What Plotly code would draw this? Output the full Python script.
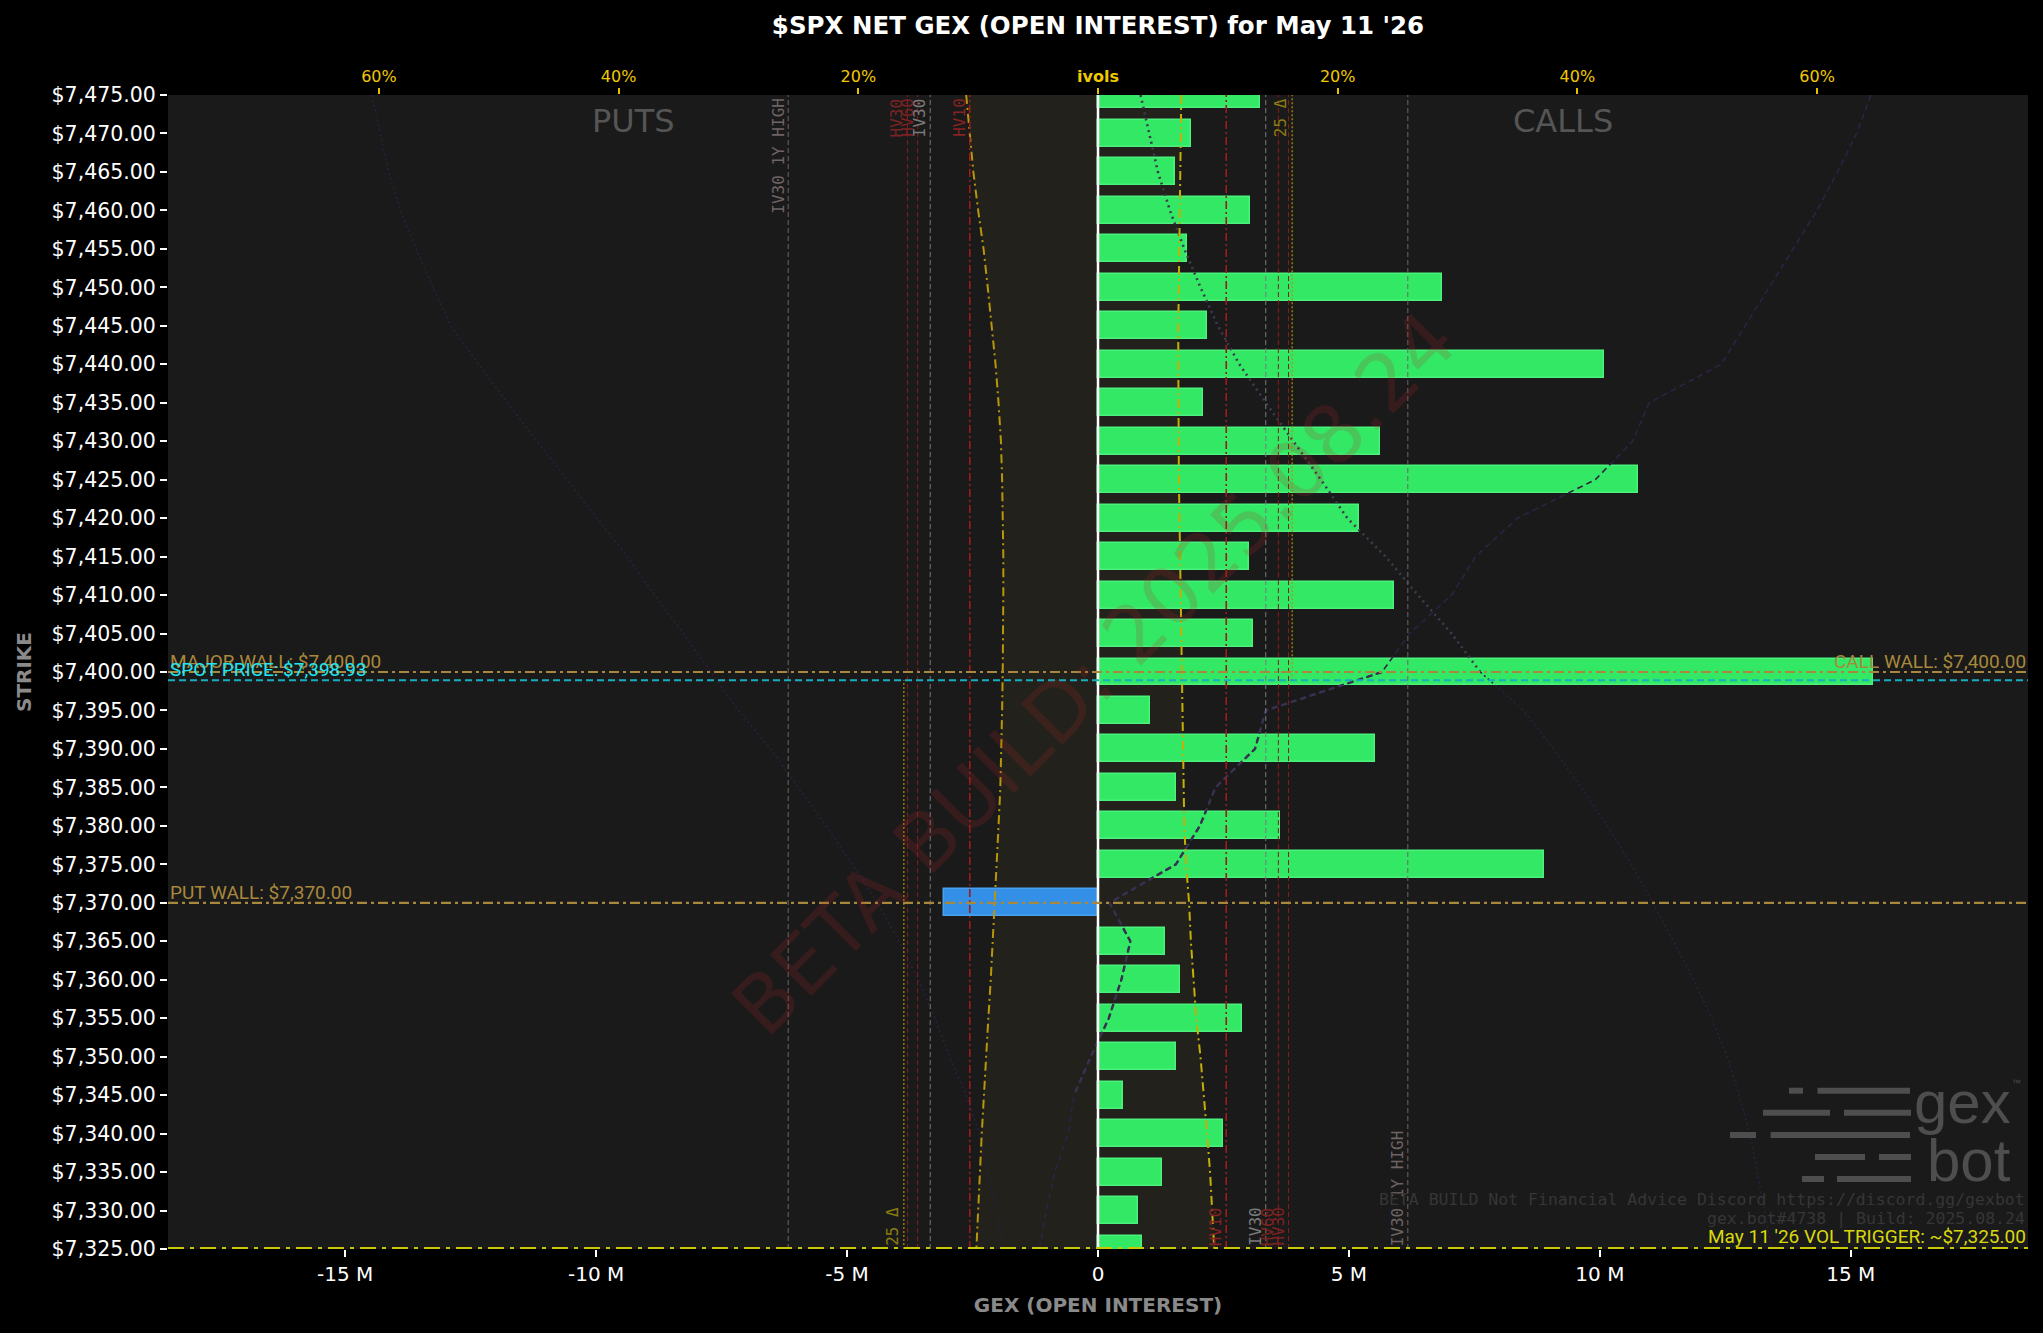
import plotly.graph_objects as go

# ---------------- data ----------------
strikes = [7475, 7470, 7465, 7460, 7455, 7450, 7445, 7440, 7435, 7430, 7425, 7420, 7415, 7410, 7405, 7400,
           7395, 7390, 7385, 7380, 7375, 7370, 7365, 7360, 7355, 7350, 7345, 7340, 7335, 7330, 7325]
net_gex_m = [3.22, 1.86, 1.53, 3.02, 1.78, 6.86, 2.18, 10.09, 2.10, 5.61, 10.76, 5.21, 3.00, 5.89, 3.08, 15.44,
             1.04, 5.51, 1.56, 3.63, 8.88, -3.07, 1.33, 1.64, 2.87, 1.56, 0.49, 2.49, 1.27, 0.79, 0.88]

# ivol band (gold dash-dot curves), percent
put_ivol_band = [11.0, 10.7, 10.4, 10.0, 9.55, 9.2, 8.85, 8.55, 8.3, 8.1, 8.0, 7.92, 7.9, 7.9, 7.9, 7.95,
                 8.0, 8.05, 8.15, 8.3, 8.45, 8.6, 8.8, 8.95, 9.15, 9.35, 9.5, 9.7, 9.85, 10.0, 10.15]
call_ivol_band = [6.95, 6.9, 6.85, 6.8, 6.75, 6.7, 6.7, 6.7, 6.7, 6.7, 6.75, 6.8, 6.85, 6.9, 6.95, 7.0,
                  7.05, 7.1, 7.15, 7.2, 7.35, 7.6, 7.75, 7.95, 8.2, 8.55, 8.85, 9.1, 9.35, 9.55, 9.7]

# call IV per strike (dotted), percent
call_iv_otm_strikes = [7475, 7470, 7465, 7460, 7455, 7450, 7445, 7440, 7435, 7430, 7425, 7420, 7415, 7410, 7405, 7400]
call_iv_otm = [3.55, 4.25, 5.0, 6.0, 7.2, 8.55, 10.0, 11.8, 14.0, 16.3, 18.6, 20.8, 24.0, 26.7, 29.5, 31.9]
call_iv_itm_strikes = [7400, 7395, 7390, 7385, 7380, 7375, 7370, 7365, 7360, 7355, 7350, 7345, 7340, 7335, 7330, 7325]
call_iv_itm = [31.9, 35.5, 38.0, 40.3, 42.5, 44.5, 46.3, 48.0, 49.7, 51.2, 52.5, 53.5, 54.4, 55.0, 55.6, 56.2]

# put IV per strike (dotted, mirrored to the left), percent
put_iv = [60.6, 59.9, 59.2, 58.2, 56.9, 55.5, 54.0, 51.7, 49.3, 46.8, 44.3, 41.8, 39.3, 37.0, 34.6, 32.3,
          30.0, 27.3, 25.0, 22.7, 20.5, 18.4, 16.6, 15.0, 13.6, 12.4, 11.0, 9.9, 9.2, 8.5, 7.9]

# dashed skew curve (signed position on ivol axis), percent
skew_iv = [64.5, 63.3, 61.7, 60.0, 58.0, 56.0, 54.0, 52.0, 46.0, 44.6, 41.5, 35.0, 31.5, 29.5, 26.0, 23.7,
           14.0, 13.1, 9.8, 8.5, 6.5, 0.95, 2.7, 1.95, 0.9, -0.6, -2.0, -2.5, -3.6, -4.3, -4.9]

# reference volatility levels, percent
vol_names = ["HV10", "IV30", "HV60", "HV30"]
vol_values = [10.7, 14.0, 15.05, 15.9]
iv30_1y_high = 25.85
delta25 = 16.2

spot_price = 7398.93
major_wall = 7400.0
call_wall = 7400.0
put_wall = 7370.0
vol_trigger = 7325.0

gex_ticks = [-15, -10, -5, 0, 5, 10, 15]
ivol_ticks = [-60, -40, -20, 0, 20, 40, 60]
ivol_ticktext = ["60%", "40%", "20%", "<b>ivols</b>", "20%", "40%", "60%"]

# ---------------- styling ----------------
BG = "#1a1a1a"
GOLD = "#b8960b"
TAN = "#a8883c"
SANS = "DejaVu Sans"
MONO = "DejaVu Sans Mono"
NARROW = "Roboto"
IVMAX = 77.6
GEXMAX = 18.53

fig = go.Figure()

# tinted band between the gold ivol curves (base axis, below the bars)
fig.add_trace(go.Scatter(x=[-v for v in put_ivol_band], y=strikes, xaxis="x", yaxis="y",
                         mode="lines", line=dict(width=0), hoverinfo="skip", showlegend=False))
fig.add_trace(go.Scatter(x=call_ivol_band, y=strikes, xaxis="x", yaxis="y",
                         mode="lines", line=dict(width=0), fill="tonextx",
                         fillcolor="rgba(255,225,60,0.035)", hoverinfo="skip", showlegend=False))

# GEX bars
bar_colors = ["#33e865" if v >= 0 else "#3390e6" for v in net_gex_m]
edge_colors = ["#4af27c" if v >= 0 else "#4aa0f0" for v in net_gex_m]
fig.add_trace(go.Bar(x=net_gex_m, y=strikes, orientation="h", width=3.5, xaxis="x2", yaxis="y",
                     marker=dict(color=bar_colors, line=dict(color=edge_colors, width=1.5)),
                     showlegend=False))

# ivol curves on the top axis
fig.add_trace(go.Scatter(x=[-v for v in put_iv], y=strikes, xaxis="x3", yaxis="y", mode="lines",
                         line=dict(color="#2c2040", width=1.5, dash="2px,3px"), showlegend=False))
fig.add_trace(go.Scatter(x=skew_iv, y=strikes, xaxis="x3", yaxis="y", mode="lines",
                         line=dict(color="#2f2242", width=1.6, dash="6px,4px"), showlegend=False))
fig.add_trace(go.Scatter(x=skew_iv[15:27], y=strikes[15:27], xaxis="x3", yaxis="y", mode="lines",
                         line=dict(color="#3a3050", width=2.4, dash="6px,4px"), showlegend=False))
fig.add_trace(go.Scatter(x=call_iv_itm, y=call_iv_itm_strikes, xaxis="x3", yaxis="y", mode="lines",
                         line=dict(color="#2c2040", width=1.5, dash="2px,3px"), showlegend=False))
fig.add_trace(go.Scatter(x=call_iv_otm, y=call_iv_otm_strikes, xaxis="x3", yaxis="y", mode="lines",
                         line=dict(color="#3c3c4e", width=2.6, dash="2px,4px"), showlegend=False))
fig.add_trace(go.Scatter(x=[-v for v in put_ivol_band], y=strikes, xaxis="x3", yaxis="y", mode="lines",
                         line=dict(color=GOLD, width=2, dash="9px,4px,2px,4px"), showlegend=False))
fig.add_trace(go.Scatter(x=call_ivol_band, y=strikes, xaxis="x3", yaxis="y", mode="lines",
                         line=dict(color="#c4ae08", width=2, dash="9px,4px,2px,4px"), showlegend=False))

shapes = []
annotations = []

# vertical volatility reference lines, mirrored
level_style = {
    "HV10": dict(color="#9c1c1c", width=1.6, dash="8px,3px,2px,3px", label="#862222"),
    "IV30": dict(color="#7a7a7a", width=1.0, dash="5px,3px", label="#7a7a7a"),
    "HV60": dict(color="#8a1c1c", width=1.0, dash="5px,3px", label="#7a2222"),
    "HV30": dict(color="#8a1c1c", width=1.0, dash="5px,3px", label="#7a2222"),
}
for name, val in zip(vol_names, vol_values):
    st = level_style[name]
    for sgn in (-1, 1):
        shapes.append(dict(type="line", xref="x3", yref="paper", x0=sgn * val, x1=sgn * val, y0=0, y1=1,
                           line=dict(color=st["color"], width=st["width"], dash=st["dash"]), layer="above"))
    annotations.append(dict(text=name, xref="x3", yref="paper", x=-val, y=1, xanchor="right", yanchor="top",
                            textangle=-90, showarrow=False, xshift=1, yshift=-1,
                            font=dict(family=MONO, size=16, color=st["label"])))
    annotations.append(dict(text=name, xref="x3", yref="paper", x=val, y=0, xanchor="right", yanchor="bottom",
                            textangle=-90, showarrow=False, xshift=1, yshift=1,
                            font=dict(family=MONO, size=16, color=st["label"])))

for sgn in (-1, 1):
    shapes.append(dict(type="line", xref="x3", yref="paper", x0=sgn * iv30_1y_high, x1=sgn * iv30_1y_high,
                       y0=0, y1=1, line=dict(color="#6e6464", width=1.0, dash="5px,3px"), layer="above"))
annotations.append(dict(text="IV30 1Y HIGH", xref="x3", yref="paper", x=-iv30_1y_high, y=1, xanchor="right",
                        yanchor="top", textangle=-90, showarrow=False, xshift=1, yshift=-1,
                        font=dict(family=MONO, size=16, color="#6e6464")))
annotations.append(dict(text="IV30 1Y HIGH", xref="x3", yref="paper", x=iv30_1y_high, y=0, xanchor="right",
                        yanchor="bottom", textangle=-90, showarrow=False, xshift=1, yshift=1,
                        font=dict(family=MONO, size=16, color="#6e6464")))

# 25 delta lines
shapes.append(dict(type="line", xref="x3", yref="y", x0=delta25, x1=delta25, y0=spot_price, y1=7475,
                   line=dict(color="#a89800", width=1.2, dash="2px,2px"), layer="above"))
shapes.append(dict(type="line", xref="x3", yref="y", x0=-delta25, x1=-delta25, y0=7325, y1=spot_price,
                   line=dict(color="#a89800", width=1.2, dash="2px,2px"), layer="above"))
annotations.append(dict(text="25 Δ", xref="x3", yref="paper", x=delta25, y=1, xanchor="right", yanchor="top",
                        textangle=-90, showarrow=False, xshift=0, yshift=-1,
                        font=dict(family=MONO, size=16, color="#8a7c10")))
annotations.append(dict(text="25 Δ", xref="x3", yref="paper", x=-delta25, y=0, xanchor="right", yanchor="bottom",
                        textangle=-90, showarrow=False, xshift=0, yshift=1,
                        font=dict(family=MONO, size=16, color="#8a7c10")))

# zero line
shapes.append(dict(type="line", xref="x2", yref="paper", x0=0, x1=0, y0=0, y1=1,
                   line=dict(color="#ffffff", width=2.5), layer="above"))

# horizontal level lines
shapes.append(dict(type="line", xref="paper", yref="y", x0=0, x1=1, y0=major_wall, y1=major_wall,
                   line=dict(color=TAN, width=2.2, dash="10px,4px,3px,4px"), layer="above"))
shapes.append(dict(type="line", xref="paper", yref="y", x0=0, x1=1, y0=put_wall, y1=put_wall,
                   line=dict(color=TAN, width=2.2, dash="10px,4px,3px,4px"), layer="above"))
shapes.append(dict(type="line", xref="paper", yref="y", x0=0, x1=1, y0=spot_price, y1=spot_price,
                   line=dict(color="#18aebf", width=2.2, dash="7px,4px"), layer="above"))
shapes.append(dict(type="line", xref="paper", yref="y", x0=0, x1=1, y0=vol_trigger, y1=vol_trigger,
                   line=dict(color="#c8c800", width=4, dash="16px,6px,4px,6px"), layer="above"))

annotations += [
    dict(text=f"MAJOR WALL: ${major_wall:,.2f}", xref="paper", yref="y", x=0, y=major_wall, xanchor="left",
         yanchor="bottom", showarrow=False, yshift=-3, font=dict(family=NARROW, size=19, color=TAN)),
    dict(text=f"SPOT PRICE: ${spot_price:,.2f}", xref="paper", yref="y", x=0, y=spot_price, xanchor="left",
         yanchor="bottom", showarrow=False, yshift=-3, font=dict(family=NARROW, size=19, color="#1fe6f2")),
    dict(text=f"CALL WALL: ${call_wall:,.2f}", xref="paper", yref="y", x=1, y=call_wall, xanchor="right",
         yanchor="bottom", showarrow=False, yshift=-3, font=dict(family=NARROW, size=19, color=TAN)),
    dict(text=f"PUT WALL: ${put_wall:,.2f}", xref="paper", yref="y", x=0, y=put_wall, xanchor="left",
         yanchor="bottom", showarrow=False, yshift=-3, font=dict(family=NARROW, size=19, color=TAN)),
    dict(text="PUTS", xref="paper", yref="paper", x=0.25, y=0.9775, xanchor="center", yanchor="middle",
         showarrow=False, font=dict(family=SANS, size=32, color="#555555")),
    dict(text="CALLS", xref="paper", yref="paper", x=0.75, y=0.9775, xanchor="center", yanchor="middle",
         showarrow=False, font=dict(family=SANS, size=32, color="#555555")),
    dict(text="BETA BUILD: 2025.08.24", xref="paper", yref="paper", x=0.498, y=0.499, xanchor="center",
         yanchor="middle", textangle=-45, showarrow=False,
         font=dict(family=SANS, size=80, color="rgba(185,40,40,0.18)")),
    dict(text="BETA BUILD Not Financial Advice Discord https://discord.gg/gexbot", xref="paper", yref="paper",
         x=1, y=0.0433, xanchor="right", yanchor="middle", xshift=-1, showarrow=False,
         font=dict(family=MONO, size=16.5, color="#363636")),
    dict(text="gex.bot#4738 | Build: 2025.08.24", xref="paper", yref="paper",
         x=1, y=0.026, xanchor="right", yanchor="middle", xshift=-1, showarrow=False,
         font=dict(family=MONO, size=16.5, color="#363636")),
    dict(text="May 11 '26 VOL TRIGGER: ~$7,325.00", xref="paper", yref="y", x=1, y=vol_trigger,
         xanchor="right", yanchor="bottom", showarrow=False, yshift=-1,
         font=dict(family=NARROW, size=19, color="#d8d80c")),
]


# gexbot logo (decoration)
def px(X):
    return (X - 168) / 1860.0


def py(Y):
    return (1249 - Y) / 1154.0


logo_rows = [(1090.7, [(1789, 1803), (1817.5, 1910)]), (1112.7, [(1763, 1830), (1844, 1911)]),
             (1135, [(1730, 1756), (1770.6, 1910)]), (1157, [(1815, 1865), (1879, 1911)]),
             (1179, [(1802, 1824), (1837, 1911)])]
for yy, segs in logo_rows:
    for a, b in segs:
        shapes.append(dict(type="line", xref="paper", yref="paper", x0=px(a), x1=px(b), y0=py(yy), y1=py(yy),
                           line=dict(color="#4e4e4e", width=6), layer="above"))
annotations.append(dict(text="gex", xref="paper", yref="paper", x=px(2013), y=py(1102), xanchor="right",
                        yanchor="middle", showarrow=False,
                        font=dict(family="Liberation Sans", size=60, color="#4e4e4e")))
annotations.append(dict(text="bot", xref="paper", yref="paper", x=px(2013), y=py(1160), xanchor="right",
                        yanchor="middle", showarrow=False,
                        font=dict(family="Liberation Sans", size=60, color="#4e4e4e")))
annotations.append(dict(text="™", xref="paper", yref="paper", x=px(2016), y=py(1083), xanchor="center",
                        yanchor="middle", showarrow=False,
                        font=dict(family="Liberation Sans", size=9, color="#4e4e4e")))

fig.update_layout(
    width=2043, height=1333, autosize=False,
    margin=dict(l=168, r=15, t=95, b=84),
    paper_bgcolor="#000000", plot_bgcolor=BG,
    showlegend=False, bargap=0,
    title=dict(text="<b>$SPX NET GEX (OPEN INTEREST) for May 11 '26</b>", x=0.5, xref="paper",
               y=1 - 25 / 1333, yref="container", xanchor="center", yanchor="middle",
               font=dict(family=SANS, size=24.5, color="#ffffff")),
    xaxis=dict(range=[-IVMAX, IVMAX], visible=False, fixedrange=True),
    xaxis2=dict(range=[-GEXMAX, GEXMAX], overlaying="x", side="bottom", anchor="y",
                tickvals=gex_ticks, ticktext=[("0" if t == 0 else f"{t} M") for t in gex_ticks],
                ticks="outside", ticklen=7, tickwidth=1.5, tickcolor="#ffffff",
                tickfont=dict(family=SANS, size=20, color="#ffffff"),
                showgrid=False, zeroline=False, showline=False,
                title=dict(text="<b>GEX (OPEN INTEREST)</b>", standoff=12,
                           font=dict(family=SANS, size=20, color="#8a8a8a"))),
    xaxis3=dict(range=[-IVMAX, IVMAX], overlaying="x", side="top", anchor="y",
                tickvals=ivol_ticks, ticktext=ivol_ticktext,
                ticks="outside", ticklen=6, tickwidth=1.5, tickcolor="#e6c000",
                tickfont=dict(family=SANS, size=16, color="#f0c800"),
                showgrid=False, zeroline=False, showline=False),
    yaxis=dict(range=[7325, 7475], tickvals=strikes, ticktext=[f"${s:,.2f}" for s in strikes],
               ticks="outside", ticklen=7, tickwidth=1.5, tickcolor="#ffffff",
               tickfont=dict(family=SANS, size=20.5, color="#ffffff"),
               showgrid=False, zeroline=False, showline=False,
               title=dict(text="<b>STRIKE</b>", standoff=14,
                          font=dict(family=SANS, size=20, color="#8a8a8a"))),
    shapes=shapes,
    annotations=annotations,
)

fig.write_html("out.html", config={"displayModeBar": False},
               post_script="document.body.style.margin='0';document.body.style.overflow='hidden';")
